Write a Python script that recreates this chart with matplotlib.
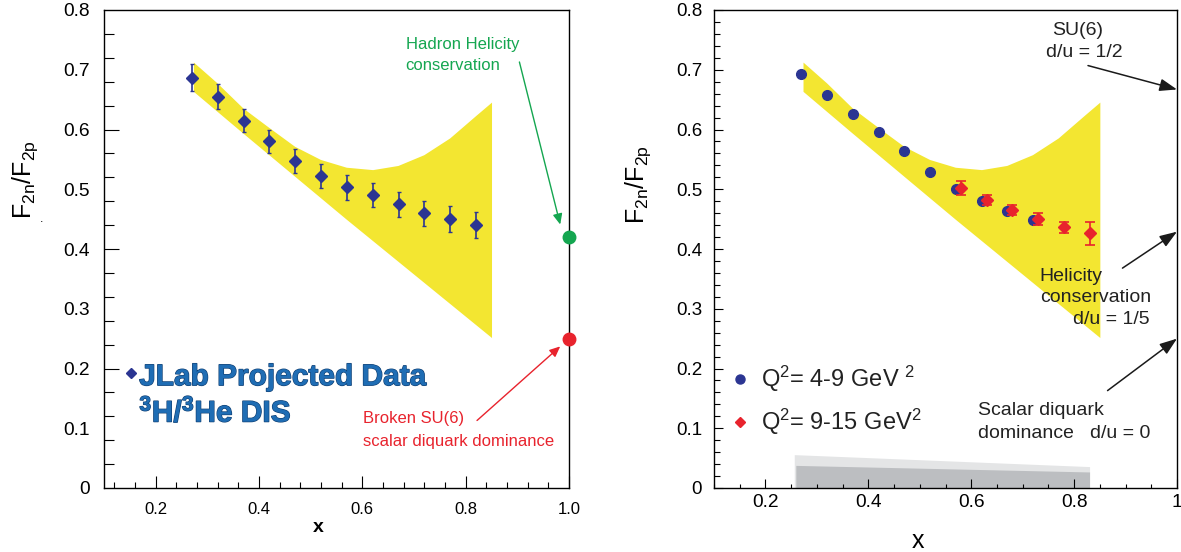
import matplotlib

matplotlib.use("Agg")
import matplotlib.pyplot as plt  # noqa: E402
import matplotlib.patheffects as pe  # noqa: E402
from matplotlib.ticker import MultipleLocator  # noqa: E402

plt.rcParams["font.family"] = ["Liberation Sans", "DejaVu Sans"]
plt.rcParams["mathtext.fontset"] = "custom"
plt.rcParams["mathtext.rm"] = "Liberation Sans"
plt.rcParams["mathtext.it"] = "Liberation Sans:italic"
plt.rcParams["mathtext.bf"] = "Liberation Sans:bold"

# ---------------- data ----------------
# JLab projected 3H/3He DIS points (left panel)
jlab_x = [0.27, 0.32, 0.37, 0.42, 0.47, 0.52, 0.57, 0.62, 0.67, 0.72, 0.77, 0.82]
jlab_y = [0.687, 0.655, 0.615, 0.580, 0.548, 0.522, 0.503, 0.490, 0.475, 0.460, 0.450, 0.440]
jlab_err = [0.022, 0.021, 0.020, 0.020, 0.020, 0.020, 0.021, 0.020, 0.021, 0.021, 0.022, 0.022]

# model band (both panels)
band_up_x = [0.274, 0.32, 0.370, 0.421, 0.470, 0.520, 0.570, 0.621, 0.670, 0.720, 0.770, 0.821, 0.851]
band_up_y = [0.712, 0.677, 0.635, 0.602, 0.571, 0.549, 0.536, 0.532, 0.539, 0.557, 0.585, 0.623, 0.645]
band_lo_x = [0.274, 0.370, 0.570, 0.851]
band_lo_y = [0.663, 0.593, 0.449, 0.251]

# right panel: two Q^2 ranges
q_low_x = [0.27, 0.32, 0.37, 0.42, 0.47, 0.52, 0.57, 0.62, 0.67, 0.72]
q_low_y = [0.693, 0.658, 0.626, 0.596, 0.564, 0.529, 0.500, 0.481, 0.464, 0.449]
q_high_x = [0.58, 0.63, 0.68, 0.73, 0.78, 0.83]
q_high_y = [0.502, 0.482, 0.465, 0.450, 0.436, 0.426]
q_high_err = [0.012, 0.008, 0.008, 0.0095, 0.009, 0.019]

# systematic error bands at the bottom of the right panel
sys_light_x = [0.257, 0.257, 0.831, 0.831]
sys_light_y = [0.0, 0.055, 0.035, 0.0]
sys_dark_x = [0.260, 0.260, 0.831, 0.831]
sys_dark_y = [0.0, 0.037, 0.026, 0.0]

# x -> 1 limits
hhc_limit = 0.42      # hadron helicity conservation (left)
scalar_limit = 0.25   # scalar diquark dominance
su6_ratio = 0.667     # d/u = 1/2
helicity_ratio = 0.429  # d/u = 1/5

YELLOW = "#F3E631"
NAVY = "#2B3592"
RED = "#E8232D"
GREEN = "#14A650"
W, H = 1181, 552

fig = plt.figure(figsize=(W / 100, H / 100), dpi=100)
ax1 = fig.add_axes([104 / W, 1 - 488 / H, 465 / W, 478 / H])
ax2 = fig.add_axes([714 / W, 1 - 488 / H, 463 / W, 478 / H])

for ax in (ax1, ax2):
    ax.set_xlim(0.1, 1.0)
    ax.set_ylim(0, 0.8)
    for s in ax.spines.values():
        s.set_linewidth(1.0)
    ax.fill(band_up_x + band_lo_x[::-1], band_up_y + band_lo_y[::-1],
            color=YELLOW, lw=0, zorder=1)

# ---------------- left panel ----------------
ax1.errorbar(jlab_x, jlab_y, yerr=jlab_err, fmt="D", ms=6.5, color=NAVY,
             elinewidth=1.2, capsize=1.2, capthick=1.0, zorder=3)
ax1.plot([1.0], [hhc_limit], "o", ms=9, color=GREEN, clip_on=False, zorder=5)
ax1.plot([1.0], [scalar_limit], "o", ms=9, color=RED, clip_on=False, zorder=5)

ax1.text(0.684, 0.734, "Hadron Helicity", color=GREEN, fontsize=12)
ax1.text(0.684, 0.700, "conservation", color=GREEN, fontsize=12)
ax1.annotate("", xy=(0.983, 0.441), xytext=(0.904, 0.713),
             arrowprops=dict(arrowstyle="-|>,head_length=0.45,head_width=0.2",
                             color=GREEN, lw=1.0, shrinkA=0, shrinkB=0,
                             mutation_scale=14))
ax1.text(0.602, 0.108, "Broken SU(6)", color=RED, fontsize=12)
ax1.text(0.602, 0.070, "scalar diquark dominance", color=RED, fontsize=12)
ax1.annotate("", xy=(0.983, 0.237), xytext=(0.822, 0.113),
             arrowprops=dict(arrowstyle="-|>,head_length=0.45,head_width=0.2",
                             color=RED, lw=1.0, shrinkA=0, shrinkB=0,
                             mutation_scale=14))

outline = [pe.withStroke(linewidth=0.9, foreground="#103F72")]
ax1.plot([0.152], [0.192], "D", ms=5.5, color=NAVY, zorder=4)
ax1.text(0.168, 0.172, "JLab Projected Data", color="#1F6DB4", fontsize=21.5,
         fontweight="bold", path_effects=outline)
ax1.text(0.168, 0.111, r"$^{\mathbf{3}}$H/$^{\mathbf{3}}$He DIS", color="#1F6DB4",
         fontsize=21.5, fontweight="bold", path_effects=outline)

ax1.yaxis.set_major_locator(MultipleLocator(0.1))
ax1.yaxis.set_minor_locator(MultipleLocator(0.04))
ax1.set_yticks([0, 0.1, 0.2, 0.3, 0.4, 0.5, 0.6, 0.7, 0.8],
               ["0", "0.1", "0.2", "0.3", "0.4", "0.5", "0.6", "0.7", "0.8"])
ax1.tick_params(axis="y", which="major", length=0, pad=10, labelsize=13.8)
ax1.tick_params(axis="y", which="minor", length=7.2, width=0.8, direction="in")
sec = ax1.secondary_yaxis("left")
sec.set_yticks([0.2, 0.4, 0.6])
sec.tick_params(direction="in", length=10.8, width=0.8, labelleft=False)
sec.spines["left"].set_visible(False)

ax1.set_xticks([0.2, 0.4, 0.6, 0.8, 1.0], ["0.2", "0.4", "0.6", "0.8", "1.0"])
ax1.xaxis.set_minor_locator(MultipleLocator(0.04))
ax1.tick_params(axis="x", which="major", direction="in", length=9, width=0.8,
                pad=10, labelsize=12)
ax1.tick_params(axis="x", which="minor", direction="in", length=4.3, width=0.8)

fig.text(25 / W, 1 - 180 / H, r"F$_\mathrm{2n}$/F$_\mathrm{2p}$", rotation=90,
         fontsize=18, ha="center", va="center")
fig.text(42 / W, 1 - 222 / H, ".", fontsize=9, ha="center", va="baseline")
fig.text(318 / W, 1 - 531.7 / H, "x", fontsize=14, fontweight="bold",
         ha="center", va="baseline")

# ---------------- right panel ----------------
ax2.fill(sys_light_x, sys_light_y, color="#E4E5E6", lw=0, zorder=1)
ax2.fill(sys_dark_x, sys_dark_y, color="#BCBEC1", lw=0, zorder=1.1)
ax2.plot(q_low_x, q_low_y, "o", ms=7, color=NAVY, zorder=3)
ax2.errorbar(q_high_x, q_high_y, yerr=q_high_err, fmt="D", ms=6, color=RED,
             elinewidth=1.2, capsize=3.5, capthick=1.2, zorder=4)

ax2.plot([0.150], [0.182], "o", ms=6.5, color=NAVY, clip_on=False)
ax2.plot([0.150], [0.110], "D", ms=5.5, color=RED, clip_on=False)
ax2.text(0.192, 0.170, r"Q$^2$= 4-9 GeV $^2$", fontsize=17, color="#222222")
ax2.text(0.192, 0.097, r"Q$^2$= 9-15 GeV$^2$", fontsize=17, color="#222222")

arrow_k = dict(arrowstyle="-|>,head_length=0.75,head_width=0.27", color="#1A1A1A",
               lw=1.1, shrinkA=0, shrinkB=0, mutation_scale=14)
ax2.text(0.807, 0.758, "SU(6)", fontsize=14, ha="center", color="#222222")
ax2.text(0.820, 0.722, "d/u = 1/2", fontsize=14, ha="center", color="#222222")
ax2.annotate("", xy=(1.0, su6_ratio), xytext=(0.827, 0.707), arrowprops=arrow_k)

ax2.text(0.733, 0.346, "Helicity", fontsize=14, color="#222222")
ax2.text(0.733, 0.312, "conservation", fontsize=14, color="#222222")
ax2.text(0.946, 0.274, "d/u = 1/5", fontsize=14, ha="right", color="#222222")
ax2.annotate("", xy=(1.0, helicity_ratio), xytext=(0.894, 0.368), arrowprops=arrow_k)

ax2.text(0.614, 0.122, "Scalar diquark", fontsize=14, color="#222222")
ax2.text(0.614, 0.083, "dominance   d/u = 0", fontsize=14, color="#222222")
ax2.annotate("", xy=(1.0, scalar_limit), xytext=(0.865, 0.163), arrowprops=arrow_k)

ax2.yaxis.set_major_locator(MultipleLocator(0.1))
ax2.yaxis.set_minor_locator(MultipleLocator(0.02))
ax2.set_yticks([0, 0.1, 0.2, 0.3, 0.4, 0.5, 0.6, 0.7, 0.8],
               ["0", "0.1", "0.2", "0.3", "0.4", "0.5", "0.6", "0.7", "0.8"])
ax2.tick_params(axis="y", which="major", direction="in", length=6.5, width=0.8,
                pad=8.6, labelsize=13.5)
ax2.tick_params(axis="y", which="minor", direction="in", length=4, width=0.8)
ax2.set_xticks([0.2, 0.4, 0.6, 0.8, 1.0], ["0.2", "0.4", "0.6", "0.8", "1"])
ax2.xaxis.set_minor_locator(MultipleLocator(0.05))
ax2.tick_params(axis="x", which="major", direction="in", length=6.5, width=0.8,
                pad=4.5, labelsize=13.8)
ax2.tick_params(axis="x", which="minor", direction="in", length=3, width=0.8)

fig.text(638 / W, 1 - 185 / H, r"F$_\mathrm{2n}$/F$_\mathrm{2p}$", rotation=90,
         fontsize=18, ha="center", va="center")
fig.text(918 / W, 1 - 548.3 / H, "x", fontsize=18, ha="center", va="baseline")

fig.savefig("out.png", dpi=100)
